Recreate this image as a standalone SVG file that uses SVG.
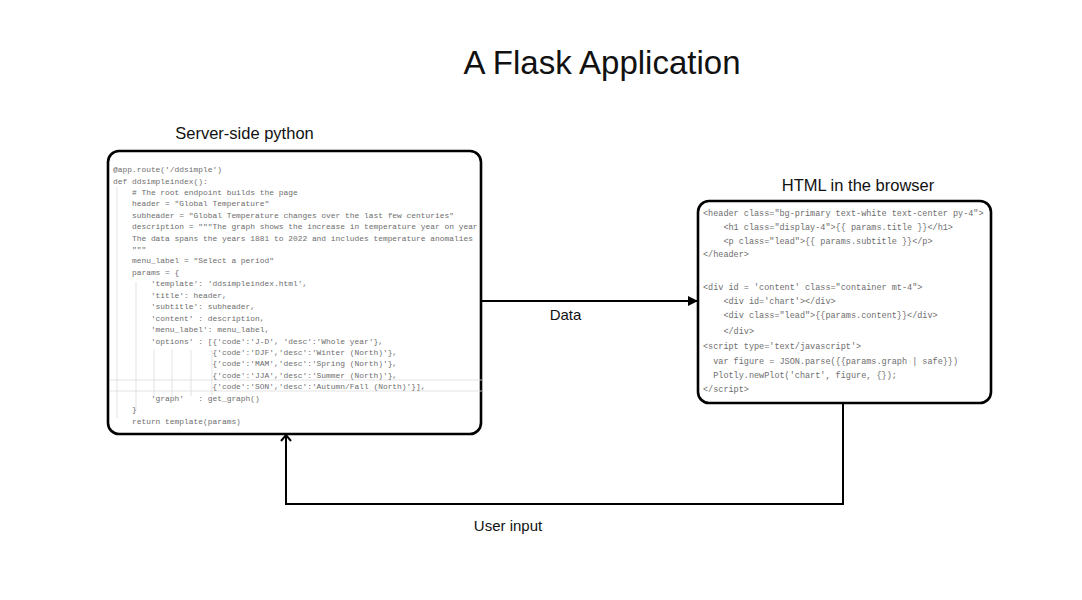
<svg xmlns="http://www.w3.org/2000/svg" width="1082" height="600" viewBox="0 0 1082 600">
<style>
.lbl{font-family:"Liberation Sans",Arial,sans-serif;fill:#111;}
.box{fill:#fff;stroke:#000;stroke-width:2.6;}
.py{font-family:"Liberation Mono","DejaVu Sans Mono",monospace;font-size:7.9px;fill:#6e6e6e;white-space:pre;}
.ht{font-family:"Liberation Mono","DejaVu Sans Mono",monospace;font-size:8.5px;fill:#6e6e6e;white-space:pre;}
.guide{stroke:#dcdcdc;stroke-width:0.8;fill:none;}
.conn{stroke:#000;stroke-width:2;fill:none;}
</style>
<defs>
<marker id="tri" markerWidth="10" markerHeight="10" refX="9" refY="5" orient="auto" markerUnits="userSpaceOnUse">
<path d="M0,0 L10,5 L0,10 Z" fill="#000"/>
</marker>
<marker id="open" markerWidth="12" markerHeight="12" refX="10" refY="6" orient="auto" markerUnits="userSpaceOnUse">
<path d="M4,1 L10,6 L4,11" fill="none" stroke="#000" stroke-width="2"/>
</marker>
</defs>
<rect width="1082" height="600" fill="#fff"/>
<text class="lbl" x="602" y="74" font-size="33" text-anchor="middle">A Flask Application</text>

<g id="connectors">
<line class="conn" x1="482" y1="301" x2="697" y2="301" marker-end="url(#tri)"/>
<text class="lbl" x="565.5" y="320" font-size="15" text-anchor="middle">Data</text>
<path class="conn" d="M843,404 V504 H286 V435" marker-end="url(#open)"/>
<text class="lbl" x="508" y="531" font-size="15" text-anchor="middle">User input</text>
</g>

<g id="server">
<text class="lbl" x="244.5" y="139" font-size="16.5" text-anchor="middle">Server-side python</text>
<rect class="box" x="108" y="151" width="373" height="283" rx="11"/>
<path class="guide" d="M117,187 V418 M136,282 V410 M154,350 V396 M172,350 V396 M191,350 V396 M212,350 V396 M110,380 H482 M110,391 H482"/>
<text class="py" x="113" y="172">@app.route('/ddsimple')</text>
<text class="py" x="113" y="184">def ddsimpleindex():</text>
<text class="py" x="113" y="195">    # The root endpoint builds the page</text>
<text class="py" x="113" y="206">    header = "Global Temperature"</text>
<text class="py" x="113" y="218">    subheader = "Global Temperature changes over the last few centuries"</text>
<text class="py" x="113" y="229">    description = """The graph shows the increase in temperature year on year</text>
<text class="py" x="113" y="241">    The data spans the years 1881 to 2022 and includes temperature anomalies</text>
<text class="py" x="113" y="252">    """</text>
<text class="py" x="113" y="263">    menu_label = "Select a period"</text>
<text class="py" x="113" y="275">    params = {</text>
<text class="py" x="113" y="286">        'template': 'ddsimpleindex.html',</text>
<text class="py" x="113" y="298">        'title': header,</text>
<text class="py" x="113" y="309">        'subtitle': subheader,</text>
<text class="py" x="113" y="321">        'content' : description,</text>
<text class="py" x="113" y="332">        'menu_label': menu_label,</text>
<text class="py" x="113" y="344">        'options' : [{'code':'J-D', 'desc':'Whole year'},</text>
<text class="py" x="113" y="355">                     {'code':'DJF','desc':'Winter (North)'},</text>
<text class="py" x="113" y="366">                     {'code':'MAM','desc':'Spring (North)'},</text>
<text class="py" x="113" y="378">                     {'code':'JJA','desc':'Summer (North)'},</text>
<text class="py" x="113" y="389">                     {'code':'SON','desc':'Autumn/Fall (North)'}],</text>
<text class="py" x="113" y="401">        'graph'   : get_graph()</text>
<text class="py" x="113" y="412">    }</text>
<text class="py" x="113" y="424">    return template(params)</text>
</g>

<g id="browser">
<text class="lbl" x="858" y="191" font-size="16.5" text-anchor="middle">HTML in the browser</text>
<rect class="box" x="698" y="201" width="293" height="202" rx="11"/>
<text class="ht" x="703" y="216">&lt;header class="bg-primary text-white text-center py-4"&gt;</text>
<text class="ht" x="703" y="230">    &lt;h1 class="display-4"&gt;{{ params.title }}&lt;/h1&gt;</text>
<text class="ht" x="703" y="244">    &lt;p class="lead"&gt;{{ params.subtitle }}&lt;/p&gt;</text>
<text class="ht" x="703" y="257">&lt;/header&gt;</text>
<text class="ht" x="703" y="290">&lt;div id = 'content' class="container mt-4"&gt;</text>
<text class="ht" x="703" y="304">    &lt;div id='chart'&gt;&lt;/div&gt;</text>
<text class="ht" x="703" y="318">    &lt;div class="lead"&gt;{{params.content}}&lt;/div&gt;</text>
<text class="ht" x="703" y="334">    &lt;/div&gt;</text>
<text class="ht" x="703" y="349">&lt;script type='text/javascript'&gt;</text>
<text class="ht" x="703" y="364">  var figure = JSON.parse({{params.graph | safe}})</text>
<text class="ht" x="703" y="378">  Plotly.newPlot('chart', figure, {});</text>
<text class="ht" x="703" y="392">&lt;/script&gt;</text>
</g>
</svg>
